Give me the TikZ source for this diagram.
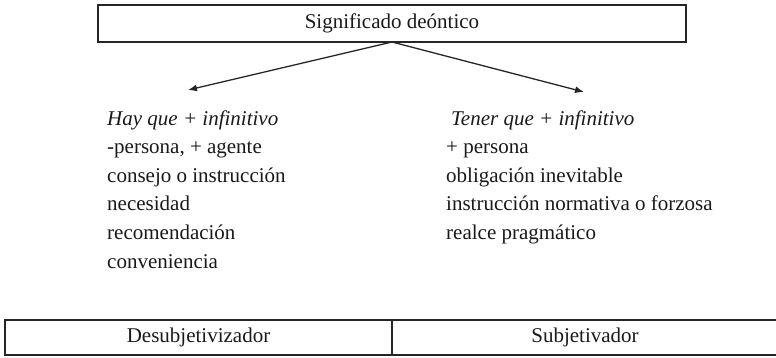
\documentclass[tikz,border=0pt]{standalone}
\usepackage{fontspec}
\setmainfont{Liberation Serif}
\usetikzlibrary{arrows.meta}
\begin{document}
\begin{tikzpicture}[x=1pt,y=-1pt,
  txt/.style={inner sep=0pt,anchor=base west,font=\fontsize{21}{25}\selectfont,text=black!90},
  boxline/.style={draw=black!85,line width=2.4pt},
  conn/.style={draw=black!85,line width=1.3pt,-{Latex[length=9pt,width=7pt]}}]
\useasboundingbox (0,0) rectangle (776,357);
\begin{scope}
\clip (0,0) rectangle (776,357);
% top box
\node[boxline,minimum width=588pt,minimum height=37pt,inner sep=0pt,
  font=\fontsize{21}{25}\selectfont,text=black!90] (top) at (392,23.5) {Significado deóntico};
\coordinate (apex) at (392,42);
\coordinate (lt) at (188,90);
\coordinate (rt) at (584,92);
\draw[conn] (apex) -- (lt);
\draw[conn] (apex) -- (rt);
% left block
\node[txt] (l1) at (107,125) {\itshape Hay que + infinitivo};
\node[txt] (l2) at (107,153.6) {-persona, + agente};
\node[txt] (l3) at (107,182.2) {consejo o instrucción};
\node[txt] (l4) at (107,210.8) {necesidad};
\node[txt] (l5) at (107,239.4) {recomendación};
\node[txt] (l6) at (107,268) {conveniencia};
% right block
\node[txt] (r1) at (451,125) {\itshape Tener que + infinitivo};
\node[txt] (r2) at (446,153.6) {+ persona};
\node[txt] (r3) at (446,182.2) {obligación inevitable};
\node[txt] (r4) at (446,210.8) {instrucción normativa o forzosa};
\node[txt] (r5) at (446,239.4) {realce pragmático};
% bottom table
\node[boxline,minimum width=387pt,minimum height=35.5pt,inner sep=0pt,
  font=\fontsize{21}{25}\selectfont,text=black!90] (desub) at (198.5,337.5) {Desubjetivizador};
\node[boxline,minimum width=390pt,minimum height=35.5pt,inner sep=0pt] (sub) at (587,337.5) {};
\node[inner sep=0pt,font=\fontsize{21}{25}\selectfont,text=black!90] (subt) at (585,337.5) {Subjetivador};
\end{scope}
\end{tikzpicture}
\end{document}
